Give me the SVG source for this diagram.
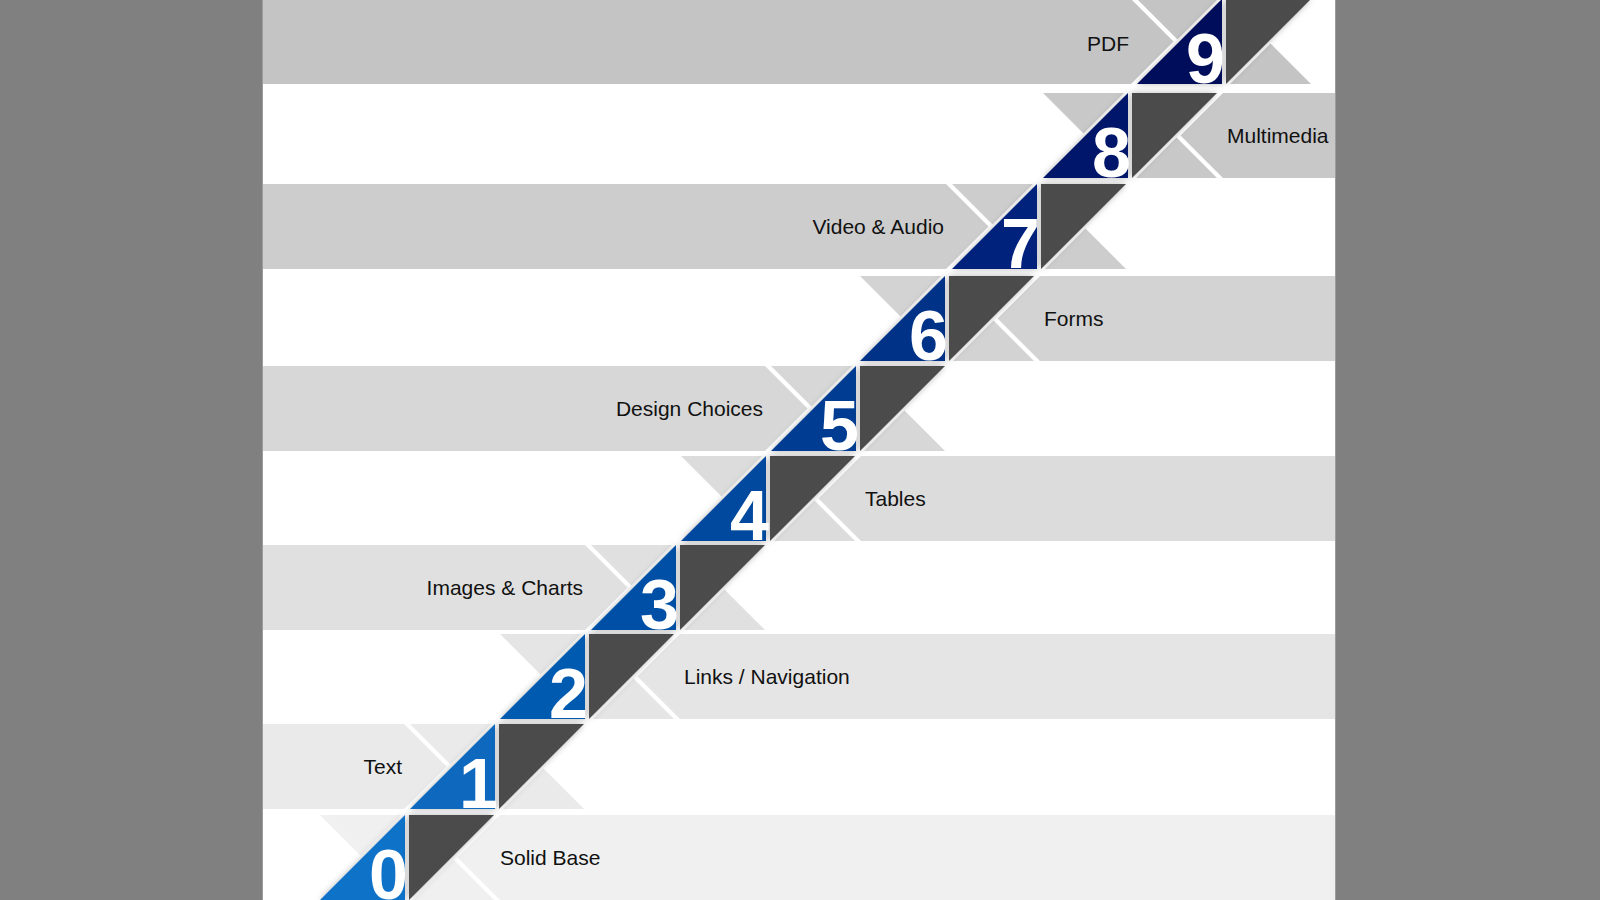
<svg xmlns="http://www.w3.org/2000/svg" width="1600" height="900" viewBox="0 0 1600 900">
<defs>
<filter id="sh" x="-20%" y="-20%" width="140%" height="140%">
<feDropShadow dx="0" dy="0" stdDeviation="3" flood-color="#000" flood-opacity="0.28"/>
</filter>
<style>
.dk{fill:#4b4b4b;filter:url(#sh)}
.bl{filter:url(#sh)}
.num{font-family:"Liberation Sans",Arial,sans-serif;font-weight:bold;font-size:70px;fill:#fff;text-anchor:end}
.lbl{font-family:"Liberation Sans",Arial,sans-serif;font-size:21px;fill:#111}
.end{text-anchor:end}
.g0{fill:#f0f0f0}.g1{fill:#eaeaea}.g2{fill:#e5e5e5}.g3{fill:#e0e0e0}.g4{fill:#dcdcdc}
.g5{fill:#d7d7d7}.g6{fill:#d3d3d3}.g7{fill:#cdcdcd}.g8{fill:#c8c8c8}.g9{fill:#c4c4c4}
.c0{fill:#1172c8}.c1{fill:#0868be}.c2{fill:#005ab0}.c3{fill:#0050a6}.c4{fill:#00489e}
.c5{fill:#003c92}.c6{fill:#003088}.c7{fill:#00247c}.c8{fill:#00156a}.c9{fill:#000a5a}
</style>
</defs>
<rect x="0" y="0" width="1600" height="900" fill="#808080"/>
<rect x="263" y="0" width="1072" height="900" fill="#ffffff"/>
<line x1="262.5" y1="0" x2="262.5" y2="900" stroke="#9c9c9c" stroke-width="1"/>
<line x1="1335.5" y1="0" x2="1335.5" y2="900" stroke="#9c9c9c" stroke-width="1"/>

<g id="step-0">
<polygon class="g0" points="500,815 457.5,857.5 500,900 1335,900 1335,815"/>
<polygon class="g0" points="320,815 401,815 360.5,855.5"/>
<polygon class="g0" points="453.5,859.5 494,900 413,900"/>
<polygon class="bl c0" points="320,900 405,815 405,900"/>
<polygon class="dk" points="409,815 494,815 409,900"/>
<text class="num" x="408" y="899">0</text>
<text class="lbl" x="500" y="864.5">Solid Base</text>
</g>

<g id="step-1">
<polygon class="g1" points="263,724 404,724 446.5,766.5 404,809 263,809"/>
<polygon class="g1" points="410,724 491,724 450.5,764.5"/>
<polygon class="g1" points="543.5,768.5 584,809 503,809"/>
<polygon class="bl c1" points="410,809 495,724 495,809"/>
<polygon class="dk" points="499,724 584,724 499,809"/>
<text class="num" x="498" y="808">1</text>
<text class="lbl end" x="402" y="773.5">Text</text>
</g>

<g id="step-2">
<polygon class="g2" points="680,634 637.5,676.5 680,719 1335,719 1335,634"/>
<polygon class="g2" points="500,634 581,634 540.5,674.5"/>
<polygon class="g2" points="633.5,678.5 674,719 593,719"/>
<polygon class="bl c2" points="500,719 585,634 585,719"/>
<polygon class="dk" points="589,634 674,634 589,719"/>
<text class="num" x="588" y="718">2</text>
<text class="lbl" x="684" y="683.5">Links / Navigation</text>
</g>

<g id="step-3">
<polygon class="g3" points="263,545 585,545 627.5,587.5 585,630 263,630"/>
<polygon class="g3" points="591,545 672,545 631.5,585.5"/>
<polygon class="g3" points="724.5,589.5 765,630 684,630"/>
<polygon class="bl c3" points="591,630 676,545 676,630"/>
<polygon class="dk" points="680,545 765,545 680,630"/>
<text class="num" x="679" y="629">3</text>
<text class="lbl end" x="583" y="594.5">Images &amp; Charts</text>
</g>

<g id="step-4">
<polygon class="g4" points="861,456 818.5,498.5 861,541 1335,541 1335,456"/>
<polygon class="g4" points="681,456 762,456 721.5,496.5"/>
<polygon class="g4" points="814.5,500.5 855,541 774,541"/>
<polygon class="bl c4" points="681,541 766,456 766,541"/>
<polygon class="dk" points="770,456 855,456 770,541"/>
<text class="num" x="769" y="540">4</text>
<text class="lbl" x="865" y="505.5">Tables</text>
</g>

<g id="step-5">
<polygon class="g5" points="263,366 765,366 807.5,408.5 765,451 263,451"/>
<polygon class="g5" points="771,366 852,366 811.5,406.5"/>
<polygon class="g5" points="904.5,410.5 945,451 864,451"/>
<polygon class="bl c5" points="771,451 856,366 856,451"/>
<polygon class="dk" points="860,366 945,366 860,451"/>
<text class="num" x="859" y="450">5</text>
<text class="lbl end" x="763" y="415.5">Design Choices</text>
</g>

<g id="step-6">
<polygon class="g6" points="1040,276 997.5,318.5 1040,361 1335,361 1335,276"/>
<polygon class="g6" points="860,276 941,276 900.5,316.5"/>
<polygon class="g6" points="993.5,320.5 1034,361 953,361"/>
<polygon class="bl c6" points="860,361 945,276 945,361"/>
<polygon class="dk" points="949,276 1034,276 949,361"/>
<text class="num" x="948" y="360">6</text>
<text class="lbl" x="1044" y="325.5">Forms</text>
</g>

<g id="step-7">
<polygon class="g7" points="263,184 946,184 988.5,226.5 946,269 263,269"/>
<polygon class="g7" points="952,184 1033,184 992.5,224.5"/>
<polygon class="g7" points="1085.5,228.5 1126,269 1045,269"/>
<polygon class="bl c7" points="952,269 1037,184 1037,269"/>
<polygon class="dk" points="1041,184 1126,184 1041,269"/>
<text class="num" x="1040" y="268">7</text>
<text class="lbl end" x="944" y="233.5">Video &amp; Audio</text>
</g>

<g id="step-8">
<polygon class="g8" points="1223,93 1180.5,135.5 1223,178 1335,178 1335,93"/>
<polygon class="g8" points="1043,93 1124,93 1083.5,133.5"/>
<polygon class="g8" points="1176.5,137.5 1217,178 1136,178"/>
<polygon class="bl c8" points="1043,178 1128,93 1128,178"/>
<polygon class="dk" points="1132,93 1217,93 1132,178"/>
<text class="num" x="1131" y="177">8</text>
<text class="lbl" x="1227" y="142.5">Multimedia</text>
</g>

<g id="step-9">
<polygon class="g9" points="263,-1 1131,-1 1173.5,41.5 1131,84 263,84"/>
<polygon class="g9" points="1137,-1 1218,-1 1177.5,39.5"/>
<polygon class="g9" points="1270.5,43.5 1311,84 1230,84"/>
<polygon class="bl c9" points="1137,84 1222,-1 1222,84"/>
<polygon class="dk" points="1226,-1 1311,-1 1226,84"/>
<text class="num" x="1225" y="83">9</text>
<text class="lbl end" x="1129" y="50.5">PDF</text>
</g>
</svg>
